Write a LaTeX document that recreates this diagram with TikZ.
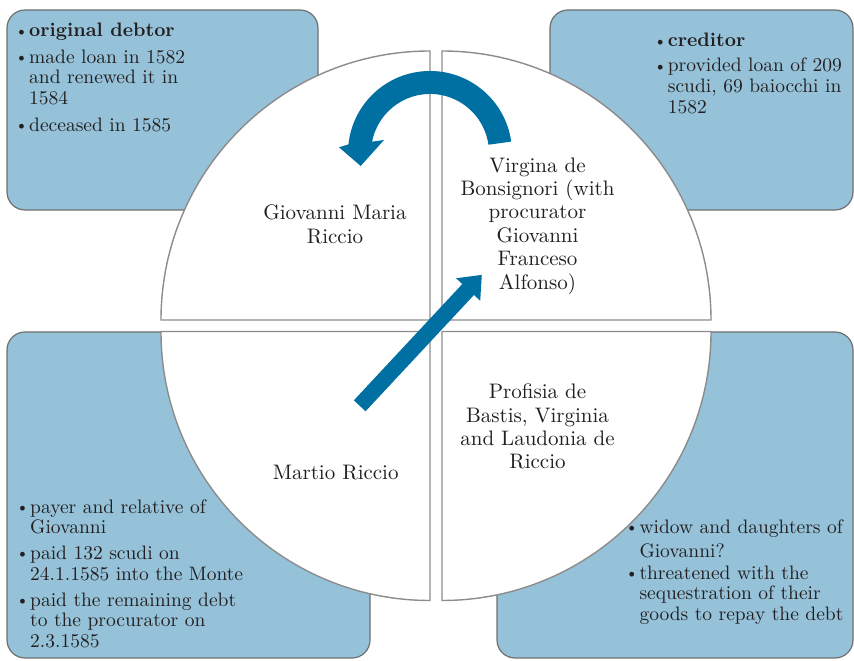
\documentclass[tikz,border=0pt]{standalone}
\usepackage{fontspec}
\usepackage{graphicx}
% Latin Modern at its 10pt design size for all text sizes
\setmainfont{lmroman10}[Extension=.otf, UprightFont=*-regular, BoldFont=*-bold]
\definecolor{boxfill}{HTML}{95C2D9}
\definecolor{boxline}{HTML}{6F6F6F}
\definecolor{pieline}{HTML}{8C8C8C}
\definecolor{arrowblue}{HTML}{0070A3}
\definecolor{ink}{HTML}{231F20}
% small bullet hanging to the left of an item
\newcommand\itemdot{\llap{\raisebox{0.8pt}{\scalebox{0.85}{\textbullet}}\hspace{1.2pt}}}
% fixes the height of a node's first line
\newcommand\topstrut[1]{\rule{0pt}{#1}}

\begin{document}
\begin{tikzpicture}[x=1pt,y=1pt,
  infobox/.style={fill=boxfill, draw=boxline, line width=1.2pt, rounded corners=18pt},
  pie/.style={fill=white, draw=pieline, line width=1.4pt},
  blockarrow/.style={fill=arrowblue},
  partytext/.style={inner sep=0pt, anchor=north, align=center, text=ink,
    font=\fontsize{21}{23.4}\selectfont},
  notetext/.style={inner sep=0pt, anchor=north west, align=left, text=ink,
    font=\fontsize{19.5}{20.6}\selectfont}]
\useasboundingbox (0,0) rectangle (854,661);

% corner boxes with the notes
\draw[infobox] (7,451) rectangle (318,651);
\draw[infobox] (550,451) rectangle (853,651);
\draw[infobox] (7,3) rectangle (370,329);
\draw[infobox] (497,3) rectangle (853,329);

% four quarter discs
\draw[pie] (430,341) -- (161,341) arc[start angle=180, end angle=90, radius=269] -- cycle;
\draw[pie] (442,341) -- (442,610) arc[start angle=90, end angle=0, radius=269] -- cycle;
\draw[pie] (430,329.5) -- (161,329.5) arc[start angle=180, end angle=270, radius=269] -- cycle;
\draw[pie] (442,329.5) -- (711,329.5) arc[start angle=0, end angle=-90, radius=269] -- cycle;

% curved arrow: creditor to debtor
\fill[blockarrow] (430,508) ++(8:82) arc[start angle=8, end angle=174, radius=82]
  -- (339,513.7) -- (360.7,495) -- (384,521) -- (372.1,519.3)
  arc[start angle=169, end angle=8, radius=59] -- cycle;

% straight arrow: payer to creditor
\begin{scope}[shift={(359.7,255.2)}, rotate=47]
\fill[blockarrow] (0,-8) -- (159,-8) -- (159,-16.5) -- (179,0) -- (159,16.5) -- (159,8) -- (0,8) -- cycle;
\end{scope}

% names in the quarters
\node[partytext] (debtor) at (335,458) {\topstrut{16.5pt}Giovanni Maria\\Riccio};
\node[partytext] (creditor) at (537.5,505.5) {\topstrut{16.5pt}Virgina de\\Bonsignori (with\\procurator\\Giovanni\\Franceso\\Alfonso)};
\node[partytext] (payer) at (335.7,198.5) {\topstrut{16.5pt}Martio Riccio};
\node[partytext] (heirs) at (537.5,279) {\topstrut{16.5pt}Profisia de\\Bastis, Virginia\\and Laudonia de\\Riccio};

% notes in the boxes
\node[notetext] (debtornotes) at (29,639.3) {\topstrut{15pt}\itemdot\textbf{original debtor}\\[5.8pt]\itemdot made loan in 1582\\and renewed it in\\1584\\[6.5pt]\itemdot deceased in 1585};
\node[notetext] (creditornotes) at (667.7,629.3) {\topstrut{15pt}\itemdot\textbf{creditor}\\[4.4pt]\itemdot provided loan of 209\\scudi, 69 baiocchi in\\1582};
\node[notetext] (payernotes) at (30,163) {\topstrut{15pt}\itemdot payer and relative of\\Giovanni\\[5.4pt]\itemdot paid 132 scudi on\\24.1.1585 into the Monte\\[5.4pt]\itemdot paid the remaining debt\\to the procurator on\\2.3.1585};
\node[notetext] (heirsnotes) at (639.3,143) {\topstrut{15pt}\itemdot widow and daughters of\\[3.4pt]Giovanni?\\[1.4pt]\itemdot threatened with the\\sequestration of their\\goods to repay the debt};
\end{tikzpicture}
\end{document}
